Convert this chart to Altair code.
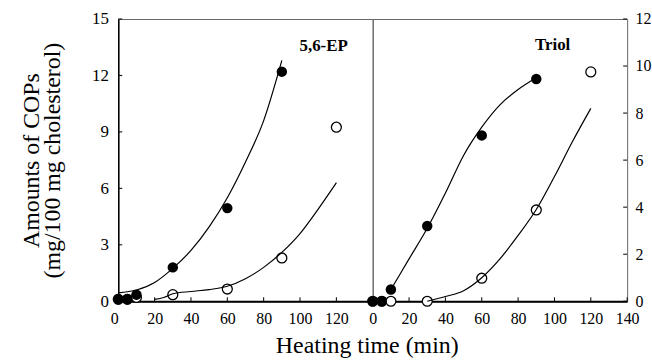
import altair as alt
import pandas as pd

FONT = "Liberation Serif"

# measured points (time in min)
pt_times_filled = [0, 5, 10, 30, 60, 90]
pt_times_open = [0, 5, 10, 30, 60, 90, 120]
ep_filled = [0.12, 0.12, 0.35, 1.8, 4.95, 12.2]
ep_open = [0.1, 0.1, 0.2, 0.35, 0.65, 2.3, 9.25]
triol_filled = [0.0, 0.0, 0.5, 3.2, 7.05, 9.45]
triol_open = [0.0, 0.0, 0.0, 0.0, 0.98, 3.88, 9.75]

# fitted curves
ep_fit_filled_t = [0, 10, 20, 30, 40, 50, 60, 70, 80, 90]
ep_fit_filled = [0.45, 0.6, 1.0, 1.75, 2.7, 3.95, 5.5, 7.4, 9.6, 12.8]
ep_fit_open_t = [20, 25, 30, 40, 50, 60, 70, 80, 90, 100, 110, 120]
ep_fit_open = [0.1, 0.2, 0.4, 0.52, 0.62, 0.8, 1.2, 1.8, 2.6, 3.6, 4.9, 6.3]
triol_fit_filled_t = [10, 20, 30, 40, 50, 60, 70, 80, 90]
triol_fit_filled = [0.5, 1.8, 3.1, 4.6, 6.2, 7.4, 8.35, 9.0, 9.5]
triol_fit_open_t = [30, 40, 50, 60, 70, 80, 90, 100, 110, 120]
triol_fit_open = [0.0, 0.2, 0.45, 1.0, 1.8, 2.8, 3.9, 5.3, 6.8, 8.2]

# axes
x_ticks = [0, 20, 40, 60, 80, 100, 120, 140]
left_x_labels = [0, 20, 40, 60, 80, 100, 120]
right_x_labels = [0, 20, 40, 60, 80, 100, 120, 140]
left_y_ticks = [0, 3, 6, 9, 12, 15]
right_y_ticks = [0, 2, 4, 6, 8, 10, 12]

panel_labels = ["5,6-EP", "Triol"]
label_pos_t = [113, 99]
label_pos_v = [13.55, 10.88]

W, H = 256, 284


def panel(fit_f_t, fit_f, fit_o_t, fit_o, pf, po, ymax, yticks, xlabels, side, name, lt, lv):
    xscale = alt.Scale(domain=[0, 140], nice=False, zero=False)
    yscale = alt.Scale(domain=[0, ymax], nice=False)
    if side == "left":
        xaxis = alt.Axis(values=xlabels, ticks=False, grid=False, labelFlush=False,
                         labelAlign={"condition": {"test": "datum.value == 0", "value": "right"},
                                     "value": "center"},
                         domainColor="black", domainWidth=2, labelPadding=9,
                         labelFontSize=16, title="Heating time (min)", titleX=W - 6,
                         titleFontSize=24, titleFontWeight="normal", titlePadding=8)
        yaxis = alt.Axis(values=yticks, ticks=False, grid=False, domainColor="black",
                         domainWidth=1.5, labelPadding=10, labelFontSize=17,
                         title=["Amounts of COPs", "(mg/100 mg cholesterol)"],
                         titleFontSize=24, titleFontWeight="normal", titlePadding=27,
                         titleLineHeight=21)
        ytick_x, ytick_x2 = 0, 4
    else:
        xaxis = alt.Axis(values=xlabels, ticks=False, grid=False, labelFlush=False,
                         domainColor="black", domainWidth=2, labelPadding=9,
                         labelFontSize=16, title=None)
        yaxis = alt.Axis(values=yticks, ticks=False, grid=False, domain=False,
                         orient="right", labelPadding=8, labelFontSize=16, title=None)
        ytick_x, ytick_x2 = W - 4, W

    X = alt.X("t:Q", scale=xscale, axis=xaxis)
    Y = alt.Y("v:Q", scale=yscale, axis=yaxis)

    df_pf = pd.DataFrame({"t": pt_times_filled, "v": pf})
    df_po = pd.DataFrame({"t": pt_times_open, "v": po})
    df_ff = pd.DataFrame({"t": fit_f_t, "v": fit_f})
    df_fo = pd.DataFrame({"t": fit_o_t, "v": fit_o})

    xt = alt.Chart(pd.DataFrame({"t": x_ticks})).mark_rule(color="black", strokeWidth=1).encode(
        x=X, y=alt.value(H), y2=alt.value(H - 4))
    yt = alt.Chart(pd.DataFrame({"v": yticks})).mark_rule(color="black", strokeWidth=1).encode(
        y=Y, x=alt.value(ytick_x), x2=alt.value(ytick_x2))
    open_pts = alt.Chart(df_po).mark_point(shape="circle", filled=False, fill="white",
                                           fillOpacity=1, stroke="black", strokeWidth=1.3,
                                           size=100, opacity=1).encode(x=X, y=Y)
    filled_pts = alt.Chart(df_pf).mark_point(shape="circle", filled=True, color="black",
                                             size=110, opacity=1).encode(x=X, y=Y)
    line_f = alt.Chart(df_ff).mark_line(color="black", strokeWidth=1.2,
                                        interpolate="monotone").encode(x=X, y=Y)
    line_o = alt.Chart(df_fo).mark_line(color="black", strokeWidth=1.2,
                                        interpolate="monotone").encode(x=X, y=Y)
    txt = alt.Chart(pd.DataFrame({"t": [lt], "v": [lv], "s": [name]})).mark_text(
        font=FONT, fontWeight="bold", fontSize=17, align="center", baseline="middle",
        color="black").encode(x=X, y=Y, text="s:N")
    return alt.layer(xt, yt, open_pts, filled_pts, line_f, line_o, txt).properties(width=W, height=H)


left = panel(ep_fit_filled_t, ep_fit_filled, ep_fit_open_t, ep_fit_open,
             ep_filled, ep_open, 15, left_y_ticks, left_x_labels, "left",
             panel_labels[0], label_pos_t[0], label_pos_v[0])
right = panel(triol_fit_filled_t, triol_fit_filled, triol_fit_open_t, triol_fit_open,
              triol_filled, triol_open, 12, right_y_ticks, right_x_labels, "right",
              panel_labels[1], label_pos_t[1], label_pos_v[1])

chart = alt.hconcat(left, right, spacing=0, bounds="flush").resolve_scale(y="independent").properties(
    padding={"left": 19, "top": 8, "right": 0, "bottom": 0}
).configure(background="white", font=FONT).configure_view(
    stroke="#666", strokeWidth=1
).configure_axis(
    labelFont=FONT, titleFont=FONT, labelColor="black", titleColor="black"
)

chart.save("out.html", embed_options={"renderer": "svg", "actions": False})
